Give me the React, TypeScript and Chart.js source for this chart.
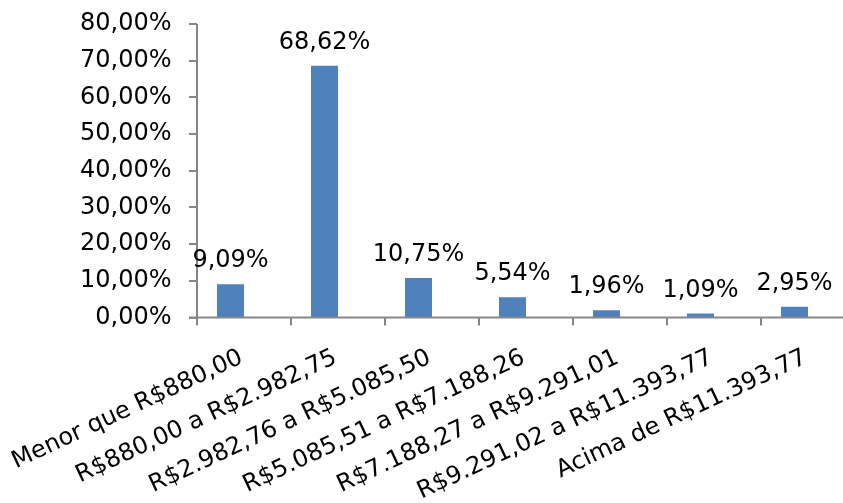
import { useEffect, useRef } from 'react';
import { Chart, registerables } from 'chart.js';

Chart.register(...registerables);

// Income brackets and the share of respondents in each one (percent)
const categories: string[] = [
  'Menor que R$880,00',
  'R$880,00 a R$2.982,75',
  'R$2.982,76 a R$5.085,50',
  'R$5.085,51 a R$7.188,26',
  'R$7.188,27 a R$9.291,01',
  'R$9.291,02 a R$11.393,77',
  'Acima de R$11.393,77',
];
const shares: number[] = [9.09, 68.62, 10.75, 5.54, 1.96, 1.09, 2.95];

// Value axis range
const yMin = 0;
const yMax = 80;
const yStep = 10;

const FONT = '"DejaVu Sans", Verdana, "Liberation Sans", sans-serif';
const TEXT_COLOR = '#000000';
const AXIS_COLOR = '#868686';
const BAR_COLOR = '#4F81BD';

const fmtPct = (v: number) => v.toFixed(2).replace('.', ',') + '%';

// Axis lines and tick marks; the category ticks sit a fixed fraction of a
// category to the left of each bar.
const AXIS_SHIFT = 0.3564;
const TICK_LEN = 8;

const axesPlugin = {
  id: 'axesLines',
  afterDatasetsDraw(chart: any) {
    const { ctx, scales } = chart;
    const x = scales.x;
    const y = scales.y;
    const catW = x.getPixelForValue(1) - x.getPixelForValue(0);
    const axisX = Math.round(x.getPixelForValue(0) - catW * AXIS_SHIFT);
    const y0 = y.getPixelForValue(yMin);
    const yTop = y.getPixelForValue(yMax);
    ctx.save();
    ctx.strokeStyle = AXIS_COLOR;
    ctx.lineWidth = 2;
    ctx.beginPath();
    ctx.moveTo(axisX, yTop);
    ctx.lineTo(axisX, y0);
    for (let v = yMin; v <= yMax; v += yStep) {
      const py = Math.round(y.getPixelForValue(v));
      ctx.moveTo(axisX - TICK_LEN, py);
      ctx.lineTo(axisX, py);
    }
    ctx.moveTo(axisX - TICK_LEN, y0);
    ctx.lineTo(chart.width, y0);
    for (let i = 0; i < categories.length; i++) {
      const px = Math.round(axisX + i * catW);
      ctx.moveTo(px, y0);
      ctx.lineTo(px, y0 + TICK_LEN);
    }
    ctx.stroke();
    ctx.restore();
  },
};

// Value labels above each bar
const valueLabelPlugin = {
  id: 'valueLabels',
  afterDatasetsDraw(chart: any) {
    const { ctx } = chart;
    const meta = chart.getDatasetMeta(0);
    ctx.save();
    ctx.font = `24px ${FONT}`;
    ctx.fillStyle = TEXT_COLOR;
    ctx.textAlign = 'center';
    ctx.textBaseline = 'alphabetic';
    meta.data.forEach((bar: any, i: number) => {
      ctx.fillText(fmtPct(shares[i]), bar.x, bar.y - 17);
    });
    ctx.restore();
  },
};

export default function App() {
  const canvasRef = useRef<HTMLCanvasElement | null>(null);

  useEffect(() => {
    const canvas = canvasRef.current;
    if (!canvas) return;
    const chart = new Chart(canvas, {
      type: 'bar',
      data: {
        labels: categories,
        datasets: [
          {
            data: shares,
            backgroundColor: BAR_COLOR,
            borderWidth: 0,
            categoryPercentage: 1,
            barPercentage: 0.287,
          },
        ],
      },
      options: {
        animation: false,
        responsive: false,
        maintainAspectRatio: false,
        devicePixelRatio: 1,
        layout: { padding: { left: 0, right: 1.5, top: 24, bottom: 0 } },
        plugins: {
          legend: { display: false },
          tooltip: { enabled: false },
          title: { display: false },
        },
        scales: {
          x: {
            type: 'category',
            offset: true,
            grid: { display: false, drawTicks: false },
            border: { display: false },
            ticks: {
              autoSkip: false,
              minRotation: 25,
              maxRotation: 25,
              padding: 26,
              labelOffset: 11,
              color: TEXT_COLOR,
              font: { family: FONT, size: 24 },
            },
            afterFit(scale: any) {
              scale.height = 185.5;
              scale.paddingLeft = 0;
              scale.paddingRight = 0;
            },
          },
          y: {
            min: yMin,
            max: yMax,
            grid: { display: false, drawTicks: false },
            border: { display: false },
            ticks: {
              stepSize: yStep,
              padding: 12,
              color: TEXT_COLOR,
              font: { family: FONT, size: 24 },
              callback: (v: any) => fmtPct(Number(v)),
            },
            afterFit(scale: any) {
              scale.width = 183.5;
              scale.paddingTop = 0;
              scale.paddingBottom = 0;
            },
          },
        },
      },
      plugins: [axesPlugin, valueLabelPlugin],
    });
    return () => chart.destroy();
  }, []);

  return (
    <div style={{ position: 'fixed', left: 0, top: 0, width: 843, height: 503, background: '#ffffff' }}>
      <canvas ref={canvasRef} width={843} height={503} style={{ display: 'block', width: 843, height: 503 }} />
    </div>
  );
}
